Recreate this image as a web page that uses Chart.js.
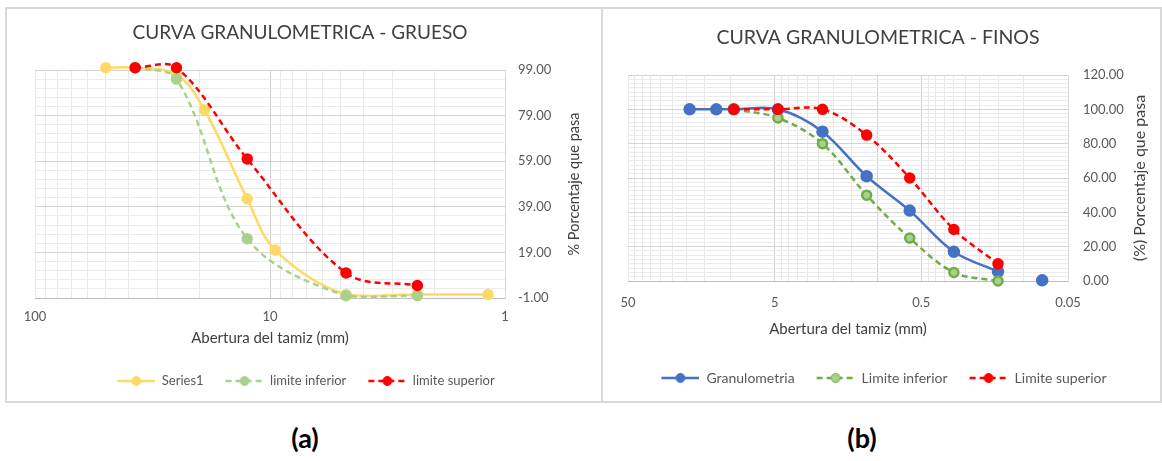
<!DOCTYPE html>
<html>
<head>
<meta charset="utf-8">
<script src="https://cdn.jsdelivr.net/npm/chart.js@4.4.0/dist/chart.umd.min.js"></script>
<style>
  body { margin: 0; background: #fff; width: 1162px; height: 461px; position: relative; overflow: hidden; font-family: Lato, sans-serif; }
  .marco { position: absolute; top: 7px; height: 396px; border: 2px solid #d9d9d9; box-sizing: border-box; }
  #marco-a { left: 5px; width: 598px; }
  #marco-b { left: 601px; width: 561px; }
  canvas { position: absolute; }
  #grueso { left: 7px; top: 9px; }
  #finos { left: 604px; top: 9px; }
  .letra { position: absolute; top: 421px; font-weight: bold; font-size: 27px; color: #000; width: 60px; text-align: center; }
</style>
</head>
<body>
<div class="marco" id="marco-a"></div>
<div class="marco" id="marco-b"></div>
<canvas id="grueso" width="594" height="392"></canvas>
<canvas id="finos" width="556" height="392"></canvas>
<div class="letra" style="left: 275px;">(a)</div>
<div class="letra" style="left: 832px;">(b)</div>
<script>
  // Curva gruesa (mm / % que pasa)
  const gruesoTamices = [50, 37.5, 25, 19, 12.5, 9.5, 4.75, 2.36, 1.18];
  const gruesoSeries1 = [100, 100, 97, 81.5, 42.5, 20, 0.5, 0.5, 0.5];
  const gruesoInferior = [null, 100, 95, null, 25, null, 0, 0, null];
  const gruesoSuperior = [null, 100, 100, null, 60, null, 10, 4.5, null];
  const gruesoEtiquetasX = [100, 10, 1];
  const gruesoEtiquetasY = [-1, 19, 39, 59, 79, 99];

  // Curva fina
  const finosTamices = [19, 12.5, 9.5, 4.75, 2.36, 1.18, 0.6, 0.3, 0.15, 0.075];
  const finosGranulometria = [100, 100, 100, 100, 87, 61, 41, 17, 5.5, 0.4];
  const finosInferior = [null, null, 100, 95, 80, 50, 25, 5, 0, null];
  const finosSuperior = [null, null, 100, 100, 100, 85, 60, 30, 10, null];
  const finosCorte = 9; // el fondo queda suelto, sin linea
  const finosEtiquetasX = [50, 5, 0.5, 0.05];
  const finosEtiquetasY = [0, 20, 40, 60, 80, 100, 120];

  Chart.defaults.font.family = "Lato";
  Chart.defaults.color = "#595959";

  const puntos = (tamices, valores) =>
    tamices.map((x, i) => ({ x, y: valores[i] })).filter((p) => p.y !== null);

  const esMayor = (lista, v) => lista.some((m) => Math.abs(m - v) < 1e-9);

  // icono de leyenda: linea + marcador
  function iconoLeyenda(ds) {
    const c = document.createElement("canvas");
    c.width = 50;
    c.height = 12;
    const g = c.getContext("2d");
    g.strokeStyle = ds.borderColor;
    g.lineWidth = ds.borderWidth;
    g.setLineDash(ds.borderDash || []);
    g.beginPath();
    g.moveTo(12, 6);
    g.lineTo(50, 6);
    g.stroke();
    g.setLineDash([]);
    g.beginPath();
    g.arc(31, 6, 4.5, 0, Math.PI * 2);
    g.fillStyle = ds.pointBackgroundColor;
    g.fill();
    g.lineWidth = 1;
    g.strokeStyle = ds.pointBorderColor;
    g.stroke();
    return c;
  }

  const leyenda = (chart) =>
    chart.data.datasets.map((ds, i) => ({
      text: ds.label,
      pointStyle: iconoLeyenda(ds),
      fontColor: "#595959",
      datasetIndex: i,
      lineWidth: 0,
      strokeStyle: "transparent",
      fillStyle: "transparent",
    }));

  const tituloVertical = {
    id: "tituloVertical",
    afterDraw(chart, args, opts) {
      const { ctx, chartArea } = chart;
      ctx.save();
      ctx.translate(opts.x, (chartArea.top + chartArea.bottom) / 2);
      ctx.rotate(-Math.PI / 2);
      ctx.font = opts.size + "px Lato";
      ctx.fillStyle = "#404040";
      ctx.textAlign = "center";
      ctx.textBaseline = "middle";
      ctx.fillText(opts.text, 0, 0);
      ctx.restore();
    },
  };

  function serie(label, data, color, extra) {
    return Object.assign(
      {
        label,
        data,
        borderColor: color,
        backgroundColor: color,
        pointBackgroundColor: color,
        pointBorderColor: color,
        borderWidth: 2.5,
        pointRadius: 4.5,
        pointHoverRadius: 4.5,
        tension: 0.35,
        clip: false,
      },
      extra
    );
  }

  function opciones(cfg) {
    return {
      responsive: false,
      animation: false,
      layout: { padding: cfg.padding },
      plugins: {
        title: {
          display: true,
          text: cfg.titulo,
          color: "#404040",
          font: { size: cfg.tituloSize, weight: "normal" },
          padding: cfg.tituloPad,
        },
        legend: {
          position: "bottom",
          labels: {
            usePointStyle: true,
            pointStyleWidth: 50,
            padding: 10,
            font: { size: cfg.leyendaSize },
            generateLabels: leyenda,
          },
        },
        tooltip: { enabled: false },
        tituloVertical: { text: cfg.tituloY, x: cfg.tituloYx, size: cfg.tituloYsize },
      },
      scales: {
        x: {
          type: "logarithmic",
          reverse: true,
          min: cfg.xMin,
          max: cfg.xMax,
          afterBuildTicks: (s) => { s.ticks = cfg.lineasX.map((value) => ({ value })); },
          afterFit: (s) => { s.height = cfg.xAlto; },
          ticks: {
            autoSkip: false,
            maxRotation: 0,
            padding: cfg.xPad,
            font: { size: 13 },
            callback: (v) => (esMayor(cfg.etiquetasX, v) ? String(v) : ""),
          },
          grid: {
            drawTicks: false,
            color: (c) => (c.tick && esMayor(cfg.oscurasX, c.tick.value) ? "#d0d0d0" : "#e8e8e8"),
          },
          border: { color: "#bfbfbf" },
          title: {
            display: true,
            text: "Abertura del tamiz (mm)",
            color: "#404040",
            font: { size: 15 },
            padding: { top: 0, bottom: cfg.xTituloPad },
          },
        },
        y: {
          position: "right",
          min: cfg.yMin,
          max: cfg.yMax,
          afterBuildTicks: (s) => { s.ticks = cfg.lineasY.map((value) => ({ value })); },
          afterFit: (s) => { s.width = 60; },
          ticks: {
            autoSkip: false,
            padding: cfg.yPad,
            font: { size: 13 },
            callback: (v) => (esMayor(cfg.etiquetasY, v) ? v.toFixed(2) : ""),
          },
          grid: {
            drawTicks: false,
            color: (c) => (c.tick && esMayor(cfg.etiquetasY, c.tick.value) ? "#d4d4d4" : "#ebebeb"),
          },
          border: { color: "#d9d9d9" },
        },
      },
    };
  }

  // lineas de la grilla (como en Excel)
  const lineasGruesoX = [];
  [1, 10].forEach((d) => { for (let k = 1; k <= 9; k++) lineasGruesoX.push(k * d); });
  lineasGruesoX.push(100);
  const lineasGruesoY = [];
  for (let i = 0; i <= 25; i++) lineasGruesoY.push(-1 + i * 4);

  const lineasFinosX = [];
  [0.05, 0.5, 5].forEach((d) => { for (let k = 1; k <= 9; k++) lineasFinosX.push(k * d); });
  lineasFinosX.push(50);
  const lineasFinosY = [];
  for (let i = 0; i <= 48; i++) lineasFinosY.push(i * 2.5);

  new Chart(document.getElementById("grueso"), {
    type: "line",
    data: {
      datasets: [
        serie("Series1", puntos(gruesoTamices, gruesoSeries1), "#FFD966", { order: 3 }),
        serie("limite inferior", puntos(gruesoTamices, gruesoInferior), "#A9D18E", { order: 2, borderDash: [6, 4] }),
        serie("limite superior", puntos(gruesoTamices, gruesoSuperior), "#FF0000", { order: 1, borderDash: [6, 4] }),
      ],
    },
    options: opciones({
      titulo: "CURVA GRANULOMETRICA - GRUESO",
      tituloSize: 19,
      tituloPad: { top: 12.6, bottom: 25.6 },
      leyendaSize: 13,
      padding: { left: 28, right: 36, top: 0, bottom: 3.5 },
      tituloY: "% Porcentaje que pasa",
      tituloYx: 567,
      tituloYsize: 14.5,
      xMin: 1, xMax: 100,
      lineasX: lineasGruesoX,
      etiquetasX: gruesoEtiquetasX,
      oscurasX: [10],
      xPad: 11,
      xAlto: 66.5,
      xTituloPad: 17.5,
      yMin: -1, yMax: 99,
      lineasY: lineasGruesoY,
      etiquetasY: gruesoEtiquetasY,
      yPad: 13,
    }),
    plugins: [tituloVertical],
  });

  const datosGranulometria = puntos(finosTamices, finosGranulometria);
  datosGranulometria.splice(finosCorte, 0, { x: finosTamices[finosCorte], y: null });

  new Chart(document.getElementById("finos"), {
    type: "line",
    data: {
      datasets: [
        serie("Granulometria", datosGranulometria, "#4472C4", { order: 3, pointRadius: 5 }),
        serie("Limite inferior", puntos(finosTamices, finosInferior), "#70AD47", {
          order: 2, borderDash: [6, 4], pointBackgroundColor: "#A9D18E", pointBorderColor: "#70AD47",
        }),
        serie("Limite superior", puntos(finosTamices, finosSuperior), "#FF0000", { order: 1, borderDash: [6, 4] }),
      ],
    },
    options: opciones({
      titulo: "CURVA GRANULOMETRICA - FINOS",
      tituloSize: 19.5,
      tituloPad: { top: 17.3, bottom: 25.3 },
      leyendaSize: 14,
      padding: { left: 24, right: 32, top: 0, bottom: 6 },
      tituloY: "(%) Porcentaje que pasa",
      tituloYx: 536,
      tituloYsize: 16,
      xMin: 0.05, xMax: 50,
      lineasX: lineasFinosX,
      etiquetasX: finosEtiquetasX,
      oscurasX: [5, 1, 0.5],
      xPad: 14,
      xAlto: 80,
      xTituloPad: 23,
      yMin: 0, yMax: 120,
      lineasY: lineasFinosY,
      etiquetasY: finosEtiquetasY,
      yPad: 15,
    }),
    plugins: [tituloVertical],
  });
</script>
</body>
</html>
